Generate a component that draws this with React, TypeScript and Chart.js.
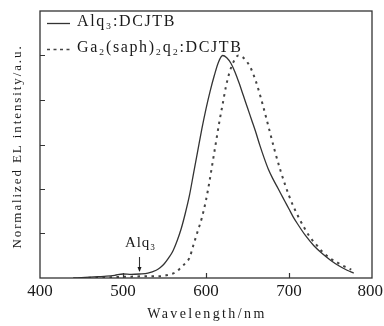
import React, { useEffect, useRef } from "react";
import { Chart, registerables } from "chart.js";

Chart.register(...registerables);

// Alq3:DCJTB (solid)
const alqWavelength = [440, 450, 460, 470, 480, 490, 500, 510, 520, 530, 540, 545, 550, 555, 560, 565, 570, 575, 580, 585, 590, 595, 600, 605, 610, 615, 620, 625, 630, 635, 640, 645, 650, 655, 660, 665, 670, 675, 680, 685, 690, 695, 700, 705, 710, 720, 730, 740, 750, 760, 770, 778];
const alqIntensity = [0.0, 0.002, 0.004, 0.006, 0.008, 0.012, 0.018, 0.016, 0.018, 0.022, 0.035, 0.047, 0.065, 0.09, 0.12, 0.165, 0.22, 0.29, 0.37, 0.47, 0.57, 0.67, 0.76, 0.84, 0.91, 0.97, 1.0, 0.99, 0.965, 0.925, 0.875, 0.82, 0.765, 0.71, 0.655, 0.595, 0.54, 0.49, 0.45, 0.415, 0.38, 0.345, 0.31, 0.275, 0.245, 0.19, 0.145, 0.11, 0.08, 0.055, 0.035, 0.022];

// Ga2(saph)2q2:DCJTB (dashed)
const gaWavelength = [450, 470, 490, 510, 530, 545, 555, 563, 568, 572, 576, 580, 585, 590, 595, 600, 604, 608, 612, 616, 620, 624, 628, 633, 639, 645, 653, 660, 669, 676, 683, 690, 700, 708, 717, 725, 734, 741, 749, 758, 765, 775];
const gaIntensity = [0.0, 0.002, 0.004, 0.006, 0.008, 0.008, 0.015, 0.025, 0.04, 0.055, 0.07, 0.09, 0.15, 0.21, 0.27, 0.35, 0.43, 0.52, 0.61, 0.7, 0.78, 0.86, 0.92, 0.97, 1.0, 0.99, 0.95, 0.885, 0.77, 0.67, 0.57, 0.48, 0.37, 0.3, 0.235, 0.185, 0.145, 0.115, 0.09, 0.07, 0.055, 0.038];

const seriesLabels = ["Alq₃:DCJTB", "Ga₂(saph)₂q₂:DCJTB"];
const xTickValues = [400, 500, 600, 700, 800];
const yTickValues = [0.2, 0.4, 0.6, 0.8, 1.0];
const xTitle = "Wavelength/nm";
const yTitle = "Normalized EL intensity/a.u.";
const annotationText = "Alq₃";
const annotationWavelength = 519;

const FONT = "'Liberation Serif', 'DejaVu Serif', serif";
const INK = "#1a1a1a";

const decorPlugin = {
  id: "decor",
  afterDraw(chart: any) {
    const { ctx, chartArea: a, scales } = chart;
    const xs = scales.x;
    const ys = scales.y;
    ctx.save();
    ctx.strokeStyle = "#333";
    ctx.lineWidth = 1.3;
    ctx.strokeRect(a.left, a.top, a.right - a.left, a.bottom - a.top);

    // inward ticks
    ctx.lineWidth = 1.2;
    ctx.beginPath();
    yTickValues.forEach((v) => {
      const py = Math.round(ys.getPixelForValue(v)) + 0.5;
      ctx.moveTo(a.left, py);
      ctx.lineTo(a.left + 5, py);
    });
    xTickValues.forEach((v) => {
      const px = Math.round(xs.getPixelForValue(v)) + 0.5;
      if (px <= a.left + 1 || px >= a.right - 1) return;
      ctx.moveTo(px, a.bottom);
      ctx.lineTo(px, a.bottom - 5);
    });
    ctx.stroke();

    // x tick labels
    ctx.fillStyle = INK;
    ctx.font = `17px ${FONT}`;
    ctx.textBaseline = "middle";
    ctx.textAlign = "center";
    (ctx as any).letterSpacing = "0px";
    const W = chart.width;
    xTickValues.forEach((v) => {
      const label = String(v);
      const w = ctx.measureText(label).width;
      let px = xs.getPixelForValue(v);
      px = Math.min(px, W - w / 2 - 1);
      ctx.fillText(label, px, a.bottom + 14);
    });

    // x title
    (ctx as any).letterSpacing = "2.4px";
    ctx.font = `14px ${FONT}`;
    ctx.fillText(xTitle, (a.left + a.right) / 2 + 1, a.bottom + 36);

    // y title
    ctx.save();
    (ctx as any).letterSpacing = "1.9px";
    ctx.font = `13px ${FONT}`;
    ctx.translate(18, (a.top + a.bottom) / 2 + 2);
    ctx.rotate(-Math.PI / 2);
    ctx.fillText(yTitle, 0, 0);
    ctx.restore();

    // legend
    ctx.textAlign = "left";
    (ctx as any).letterSpacing = "1.6px";
    ctx.font = `16px ${FONT}`;
    const rows = [
      { y: 23, dash: [] as number[], width: 1.3 },
      { y: 49, dash: [3, 3.5], width: 1.6 },
    ];
    chart.data.datasets.forEach((ds: any, i: number) => {
      const r = rows[i];
      ctx.save();
      ctx.strokeStyle = ds.borderColor;
      ctx.lineWidth = r.width;
      ctx.setLineDash(r.dash);
      ctx.beginPath();
      ctx.moveTo(47, r.y + 0.5);
      ctx.lineTo(70, r.y + 0.5);
      ctx.stroke();
      ctx.restore();
      ctx.fillText(ds.label, 77, r.y - 1);
    });

    // Alq3 annotation with arrow
    const ax = Math.round(xs.getPixelForValue(annotationWavelength)) + 0.5;
    (ctx as any).letterSpacing = "0.8px";
    ctx.font = `15px ${FONT}`;
    ctx.textAlign = "center";
    ctx.fillText(annotationText, ax + 1, 243);
    ctx.lineWidth = 1.1;
    ctx.beginPath();
    ctx.moveTo(ax, 257);
    ctx.lineTo(ax, 271);
    ctx.stroke();
    ctx.beginPath();
    ctx.moveTo(ax - 2, 267);
    ctx.lineTo(ax, 272);
    ctx.lineTo(ax + 2, 267);
    ctx.closePath();
    ctx.fill();
    ctx.restore();
  },
};

export default function App() {
  const ref = useRef<HTMLCanvasElement | null>(null);
  useEffect(() => {
    if (!ref.current) return;
    const chart = new Chart(ref.current, {
      type: "line",
      data: {
        datasets: [
          {
            label: seriesLabels[0],
            data: alqWavelength.map((x, i) => ({ x, y: alqIntensity[i] })),
            borderColor: "#333",
            borderWidth: 1.3,
            pointRadius: 0,
            cubicInterpolationMode: "monotone",
            fill: false,
          },
          {
            label: seriesLabels[1],
            data: gaWavelength.map((x, i) => ({ x, y: gaIntensity[i] })),
            borderColor: "#444",
            borderWidth: 2,
            borderDash: [2.5, 4.5],
            pointRadius: 0,
            cubicInterpolationMode: "monotone",
            fill: false,
          },
        ],
      },
      options: {
        animation: false,
        responsive: false,
        layout: { padding: { left: 40, right: 12, top: 11, bottom: 48 } },
        scales: {
          x: { type: "linear", min: 400, max: 800, display: false },
          y: { type: "linear", min: 0, max: 1.2, display: false },
        },
        plugins: { legend: { display: false }, tooltip: { enabled: false } },
      },
      plugins: [decorPlugin],
    });
    return () => chart.destroy();
  }, []);
  return (
    <div style={{ position: "fixed", left: 0, top: 0, width: 384, height: 326, background: "#fff" }}>
      <canvas ref={ref} width={384} height={326} style={{ display: "block" }} />
    </div>
  );
}
